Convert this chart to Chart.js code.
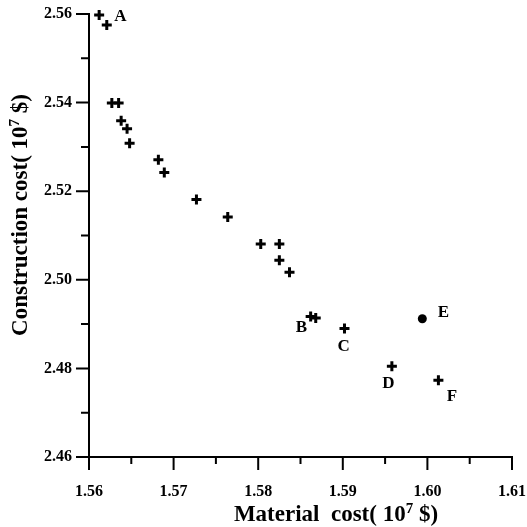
<!DOCTYPE html>
<html>
<head>
<meta charset="utf-8">
<script src="https://cdn.jsdelivr.net/npm/chart.js@4.4.1/dist/chart.umd.min.js"></script>
<style>
  html, body { margin: 0; padding: 0; background: #fff; }
  #wrap { width: 527px; height: 527px; }
</style>
</head>
<body>
<div id="wrap"><canvas id="chart" width="527" height="527"></canvas></div>
<script>
// Pareto points (material cost, construction cost), 10^7 $
const materialCost = [1.5612, 1.5621, 1.5627, 1.5635, 1.5638, 1.5645, 1.5648, 1.5682, 1.5689,
    1.5727, 1.5764, 1.5803, 1.5825, 1.5825, 1.5837, 1.5862, 1.5868, 1.5902, 1.5958, 1.6013];
const constructionCost = [2.5598, 2.5575, 2.5399, 2.5399, 2.5359, 2.5341, 2.5308, 2.5271, 2.5242,
    2.5181, 2.5142, 2.5081, 2.5081, 2.5044, 2.5017, 2.4917, 2.4914, 2.4890, 2.4805, 2.4773];

// the single round marker
const pointE = { x: 1.5994, y: 2.4912 };

// letter labels and where they sit (data units)
const labelNames = ['A', 'B', 'C', 'D', 'E', 'F'];
const labelX = [1.5637, 1.5851, 1.5901, 1.5954, 1.6019, 1.6029];
const labelY = [2.5594, 2.4891, 2.4850, 2.4766, 2.4926, 2.4737];

const xTicks = [1.56, 1.57, 1.58, 1.59, 1.60, 1.61];
const xMinor = [1.565, 1.575, 1.585, 1.595, 1.605];
const yTicks = [2.46, 2.48, 2.50, 2.52, 2.54, 2.56];
const yMinor = [2.47, 2.49, 2.51, 2.53, 2.55];

const SERIF = "'Liberation Serif', 'Times New Roman', serif";

// tick marks drawn outward, long for major and short for minor
const tickMarks = {
    id: 'tickMarks',
    afterDraw(chart) {
        const { ctx, chartArea, scales } = chart;
        ctx.save();
        ctx.strokeStyle = '#000';
        ctx.lineWidth = 2;
        ctx.beginPath();
        xTicks.forEach(v => {
            const px = scales.x.getPixelForValue(v);
            ctx.moveTo(px, chartArea.bottom); ctx.lineTo(px, chartArea.bottom + 13);
        });
        xMinor.forEach(v => {
            const px = scales.x.getPixelForValue(v);
            ctx.moveTo(px, chartArea.bottom); ctx.lineTo(px, chartArea.bottom + 7);
        });
        yTicks.forEach(v => {
            const py = scales.y.getPixelForValue(v);
            ctx.moveTo(chartArea.left, py); ctx.lineTo(chartArea.left - 13, py);
        });
        yMinor.forEach(v => {
            const py = scales.y.getPixelForValue(v);
            ctx.moveTo(chartArea.left, py); ctx.lineTo(chartArea.left - 8, py);
        });
        ctx.stroke();
        ctx.restore();
    }
};

// letters next to the points
const pointLabels = {
    id: 'pointLabels',
    afterDatasetsDraw(chart) {
        const { ctx, scales } = chart;
        ctx.save();
        ctx.fillStyle = '#000';
        ctx.font = 'bold 17px ' + SERIF;
        ctx.textAlign = 'center';
        ctx.textBaseline = 'middle';
        labelNames.forEach((t, i) => {
            ctx.fillText(t, scales.x.getPixelForValue(labelX[i]), scales.y.getPixelForValue(labelY[i]));
        });
        ctx.restore();
    }
};

// axis titles with a raised exponent
function drawTitle(ctx, before, sup, after, cx, baseline) {
    const big = 'bold 23px ' + SERIF;
    const small = 'bold 15px ' + SERIF;
    ctx.font = big;
    const w1 = ctx.measureText(before).width;
    const w3 = ctx.measureText(after).width;
    ctx.font = small;
    const w2 = ctx.measureText(sup).width;
    let x = cx - (w1 + w2 + w3) / 2;
    ctx.textAlign = 'left';
    ctx.textBaseline = 'alphabetic';
    ctx.font = big;
    ctx.fillText(before, x, baseline);
    x += w1;
    ctx.font = small;
    ctx.fillText(sup, x, baseline - 8);
    x += w2;
    ctx.font = big;
    ctx.fillText(after, x, baseline);
}

const axisTitles = {
    id: 'axisTitles',
    afterDraw(chart) {
        const { ctx } = chart;
        ctx.save();
        ctx.fillStyle = '#000';
        drawTitle(ctx, 'Material  cost( 10', '7', ' $)', 336, 521);
        ctx.translate(27, 215);
        ctx.rotate(-Math.PI / 2);
        drawTitle(ctx, 'Construction cost( 10', '7', ' $)', 0, 0);
        ctx.restore();
    }
};

new Chart(document.getElementById('chart'), {
    type: 'scatter',
    data: {
        datasets: [{
            data: materialCost.map((x, i) => ({ x: x, y: constructionCost[i] })),
            pointStyle: 'cross',
            pointRadius: 5,
            pointBorderWidth: 3,
            borderColor: '#000',
            backgroundColor: '#000',
            clip: false
        }, {
            data: [pointE],
            pointStyle: 'circle',
            pointRadius: 4.5,
            pointBorderWidth: 0,
            borderColor: '#000',
            backgroundColor: '#000',
            clip: false
        }]
    },
    options: {
        responsive: false,
        animation: false,
        layout: { padding: { top: 14, right: 15, left: 0, bottom: 0 } },
        plugins: { legend: { display: false }, tooltip: { enabled: false } },
        scales: {
            x: {
                type: 'linear',
                min: 1.56,
                max: 1.61,
                afterBuildTicks: s => { s.ticks = xTicks.map(v => ({ value: v })); },
                afterFit: s => { s.height = 70; s.paddingLeft = 0; s.paddingRight = 0; },
                grid: { display: false, drawTicks: false },
                border: { display: true, color: '#000', width: 2 },
                ticks: {
                    color: '#000',
                    padding: 25,
                    maxRotation: 0,
                    font: { family: SERIF, size: 16, weight: 'bold' },
                    callback: v => v.toFixed(2)
                }
            },
            y: {
                type: 'linear',
                min: 2.46,
                max: 2.56,
                afterBuildTicks: s => { s.ticks = yTicks.map(v => ({ value: v })); },
                afterFit: s => { s.width = 89; s.paddingTop = 0; s.paddingBottom = 0; },
                grid: { display: false, drawTicks: false },
                border: { display: true, color: '#000', width: 2 },
                ticks: {
                    color: '#000',
                    padding: 17,
                    font: { family: SERIF, size: 16, weight: 'bold' },
                    callback: v => v.toFixed(2)
                }
            }
        }
    },
    plugins: [tickMarks, pointLabels, axisTitles]
});
</script>
</body>
</html>
